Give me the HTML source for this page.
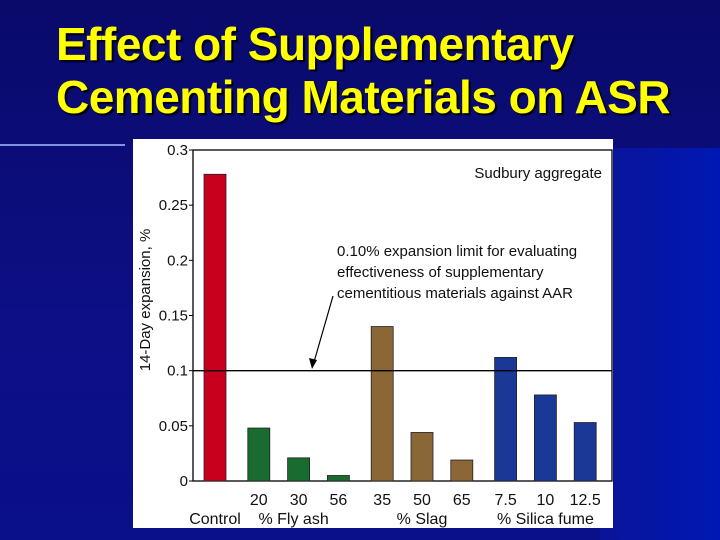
<!DOCTYPE html>
<html><head><meta charset="utf-8"><style>
html,body{margin:0;padding:0}
body{width:720px;height:540px;overflow:hidden;position:relative;background:linear-gradient(180deg,#0a0a6a 0%,#0c0f86 60%,#0a0f8a 100%);font-family:"Liberation Sans",sans-serif}
#rightband{position:absolute;left:600px;top:148px;width:120px;height:392px;background:linear-gradient(90deg,#0a1498,#0018b4)}
.title{position:absolute;left:56px;color:#ffff00;font-weight:bold;font-size:46px;line-height:53px;text-shadow:2px 2px 1px #000;white-space:nowrap;letter-spacing:-0.5px}
</style></head><body>
<div id="rightband"></div>
<svg style="position:absolute;left:0;top:0" width="720" height="540">
<defs><linearGradient id="vg" x1="0" y1="0" x2="0" y2="1"><stop offset="0" stop-color="#9fb4ff" stop-opacity="0"/><stop offset="0.3" stop-color="#c8d4ff" stop-opacity="0.9"/><stop offset="1" stop-color="#9fb4ff" stop-opacity="0.1"/></linearGradient></defs>
<line x1="0" y1="145" x2="125" y2="145" stroke="#9fb4ff" stroke-width="2" opacity="0.8"/>
<line x1="69" y1="110" x2="69" y2="300" stroke="url(#vg)" stroke-width="1.5"/>
</svg>
<div class="title" style="top:18px">Effect of Supplementary</div>
<div class="title" style="top:71px">Cementing Materials on ASR</div>
<svg id="chart" style="position:absolute;left:0;top:0" width="720" height="540"></svg>
<script>
const categories=["Control","20","30","56","35","50","65","7.5","10","12.5"];
const groups=[0,1,1,1,2,2,2,3,3,3];
const values=[0.278,0.048,0.021,0.005,0.140,0.044,0.019,0.112,0.078,0.053];
const groupLabels=["Control","% Fly ash","% Slag","% Silica fume"];
const colors=["#c8001e","#1a6b30","#8b6636","#1a3896"];
const yTicks=[0,0.05,0.1,0.15,0.2,0.25,0.3];
const yTickLabels=["0","0.05","0.1","0.15","0.2","0.25","0.3"];
const limit=0.1;
const NS="http://www.w3.org/2000/svg";
const svg=document.getElementById('chart');
const L=193,R=612,T=150,B=481,ymax=0.3;
function y(v){return B-(v/ymax)*(B-T);}
function xc(i){return 215+i*39.8+groups[i]*4;}
function mk(t,a,p){const e=document.createElementNS(NS,t);for(const k in a)e.setAttribute(k,a[k]);(p||svg).appendChild(e);return e;}
const panel=mk('rect',{x:133,y:139,width:480,height:389,fill:'#fff'});


const frame=mk('rect',{x:L,y:T,width:R-L,height:B-T,fill:'none',stroke:'#000','stroke-width':1.3});


yTicks.forEach((v,k)=>{
  const tk=mk('line',{x1:L-4,x2:L,y1:y(v),y2:y(v),stroke:'#000'});
  
  
  const t=mk('text',{x:L-5,y:y(v)+5,'text-anchor':'end','font-size':15,fill:'#111'});
  t.textContent=yTickLabels[k];
  
  
});
const yt=mk('text',{x:0,y:0,transform:'translate(150,300) rotate(-90)','text-anchor':'middle','font-size':15,fill:'#111'});
yt.textContent='14-Day expansion, %';


values.forEach((v,i)=>{
  const b=mk('rect',{x:xc(i)-11,y:y(v),width:22,height:B-y(v),fill:colors[groups[i]],stroke:'#222','stroke-width':0.8});
  
  
  if(groups[i]>0){
    const t=mk('text',{x:xc(i),y:505,'text-anchor':'middle','font-size':16,fill:'#111'});
    t.textContent=categories[i];
    
    
  }
});
[0,1,2,3].forEach(g=>{
  const idx=groups.map((gg,i)=>gg===g?i:-1).filter(i=>i>=0);
  const cx=(xc(idx[0])+xc(idx[idx.length-1]))/2-(g===1?5:0);
  const t=mk('text',{x:cx,y:524,'text-anchor':'middle','font-size':16,fill:'#111'});
  t.textContent=groupLabels[g];
  
  
});
const ln=mk('line',{x1:L,x2:R,y1:y(limit),y2:y(limit),stroke:'#000','stroke-width':1.3});


const st=mk('text',{x:602,y:178,'text-anchor':'end','font-size':15,fill:'#111'});
st.textContent='Sudbury aggregate';


["0.10% expansion limit for evaluating","effectiveness of supplementary","cementitious materials against AAR"].forEach((s,k)=>{
  const t=mk('text',{x:337,y:256+k*21,'font-size':15,fill:'#111'});
  t.textContent=s;
  
  
});
const ar=mk('line',{x1:333,y1:296,x2:314,y2:362,stroke:'#000','stroke-width':1.2});


const ah=mk('polygon',{points:`${312},${369} ${309},${358} ${317},${360}`,fill:'#000'});


</script>
</body></html>
